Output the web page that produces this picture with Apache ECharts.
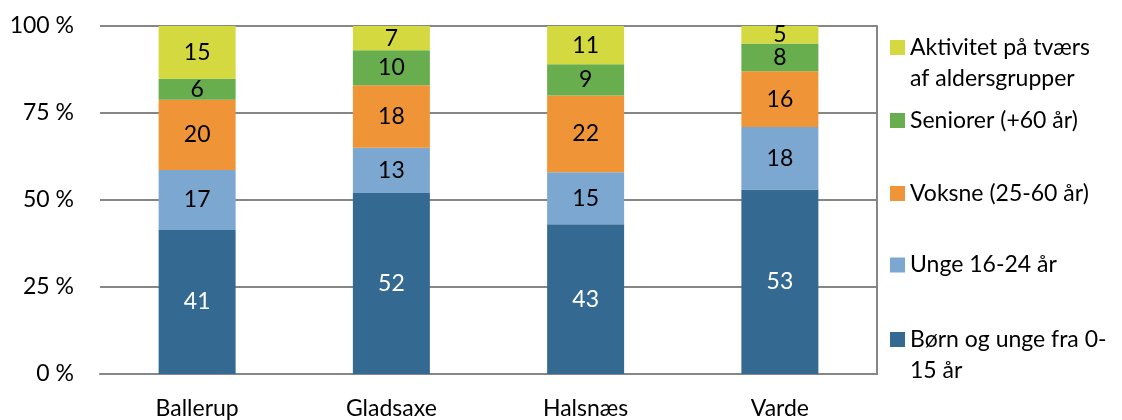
<!DOCTYPE html>
<html>
<head>
<meta charset="utf-8">
<script src="https://cdn.jsdelivr.net/npm/echarts@6/dist/echarts.min.js"></script>
<style>
  html, body { margin: 0; padding: 0; background: #fff; }
  #chart { width: 1122px; height: 420px; }
</style>
</head>
<body>
<div id="chart"></div>
<script>
// kommuner
const categories = ['Ballerup', 'Gladsaxe', 'Halsnæs', 'Varde']
// værdier pr. aldersgruppe (i %)
const boern = [41, 52, 43, 53]
const unge = [17, 13, 15, 18]
const voksne = [20, 18, 22, 16]
const seniorer = [6, 10, 9, 8]
const aktivitet = [15, 7, 11, 5]
const yTicks = [0, 25, 50, 75, 100]

const groups = [
  { name: 'Børn og unge fra 0-\n15 år', data: boern, color: '#346a92', label: '#ffffff' },
  { name: 'Unge 16-24 år', data: unge, color: '#7ba7d0', label: '#000000' },
  { name: 'Voksne (25-60 år)', data: voksne, color: '#ef9537', label: '#000000' },
  { name: 'Seniorer (+60 år)', data: seniorer, color: '#68ad4e', label: '#000000' },
  { name: 'Aktivitet på tværs\naf aldersgrupper', data: aktivitet, color: '#d3d93f', label: '#000000' },
]

// summen pr. kommune, så søjlerne fylder 100 %
const totals = categories.map((c, i) => groups.reduce((s, g) => s + g.data[i], 0))

const font = 'Lato, "Noto Sans", sans-serif'

// legendens placering, øverst til nederst
const legendTops = {
  'Aktivitet på tværs\naf aldersgrupper': 1,
  'Seniorer (+60 år)': 105,
  'Voksne (25-60 år)': 178,
  'Unge 16-24 år': 249.5,
  'Børn og unge fra 0-\n15 år': 293,
}

let myChart = echarts.init(document.getElementById('chart'))
myChart.setOption({
  animation: false,
  grid: {
    left: 100,
    right: 245,
    top: 26,
    bottom: 46,
  },
  legend: Object.keys(legendTops).map((name) => ({
    data: [name],
    left: 890,
    top: legendTops[name],
    padding: 0,
    itemWidth: 15,
    itemHeight: 15,
    itemGap: 0,
    icon: 'rect',
    selectedMode: false,
    // tom første linje, så ikonet står ud for første tekstlinje
    formatter: (n) => (n.indexOf('\n') >= 0 ? '\n' + n : n),
    textStyle: {
      fontFamily: font,
      fontSize: 23,
      color: '#000',
      lineHeight: 31,
    },
  })),
  xAxis: {
    type: 'category',
    data: categories,
    axisLine: { lineStyle: { color: '#868686', width: 2 } },
    axisTick: { inside: true, length: 7, lineStyle: { color: '#868686', width: 2 } },
    axisLabel: { fontFamily: font, fontSize: 23, color: '#000', margin: 23 },
  },
  yAxis: [
    {
      type: 'value',
      min: yTicks[0],
      max: yTicks[yTicks.length - 1],
      interval: 25,
      axisLine: { show: false },
      axisTick: { show: false },
      axisLabel: { fontFamily: font, fontSize: 23, color: '#000', margin: 26, formatter: '{value} %' },
      splitLine: { lineStyle: { color: '#868686', width: 2 } },
    },
    {
      type: 'value',
      position: 'right',
      min: 0,
      max: 100,
      axisLine: { show: true, lineStyle: { color: '#868686', width: 2 } },
      axisTick: { show: false },
      axisLabel: { show: false },
      splitLine: { show: false },
    },
  ],
  series: groups.map((g) => ({
    name: g.name,
    type: 'bar',
    stack: 'total',
    barWidth: 77,
    data: g.data.map((v, i) => ({ value: (v / totals[i]) * 100, raw: v })),
    itemStyle: { color: g.color },
    label: {
      show: true,
      position: 'inside',
      color: g.label,
      fontFamily: font,
      fontSize: 23,
      formatter: (p) => p.data.raw,
    },
  })),
})
</script>
</body>
</html>
